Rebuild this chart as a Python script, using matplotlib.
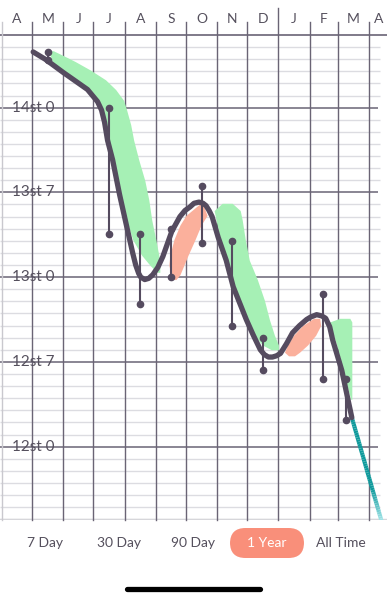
import numpy as np
import matplotlib.pyplot as plt
from matplotlib.collections import LineCollection
from matplotlib.patches import FancyBboxPatch
from matplotlib.colors import to_rgb

plt.rcParams['font.family'] = ['Lato', 'DejaVu Sans']

# --- axis labels ---
month_labels = ['A', 'M', 'J', 'J', 'A', 'S', 'O', 'N', 'D', 'J', 'F', 'M', 'A']
month_start = [0, 30, 61, 91, 122, 153, 183, 214, 244, 275, 306, 334, 365]
weight_ticks = [168, 175, 182, 189, 196]
weight_labels = ['12st 0', '12st 7', '13st 0', '13st 7', '14st 0']

# --- trend line (days since 1 Apr, lb) ---
trend_day = [31, 43, 61, 85, 90, 95, 99, 102, 105, 110, 117, 124, 130, 133, 136,
             138, 142, 146, 150, 155, 160, 169, 177, 182, 187, 191, 196, 200, 203,
             206, 209, 215, 223, 230, 243, 250, 257, 261, 265, 269, 273, 277, 283,
             289, 296, 303, 307, 313, 318, 322, 326, 329, 338, 348]
trend_lb = [200.6, 200.0, 198.9, 197.5, 197.0, 196.5, 195.8, 194.8, 193.3, 191.7,
            188.8, 186.2, 184.0, 183.0, 182.3, 182.0, 181.8, 181.9, 182.2, 182.8,
            183.7, 185.8, 187.0, 187.5, 187.8, 188.1, 188.2, 188.1, 187.9, 187.5,
            187.0, 185.3, 183.4, 181.2, 178.5, 177.2, 176.0, 175.6, 175.4, 175.4,
            175.5, 175.7, 176.5, 177.4, 178.0, 178.5, 178.7, 178.9, 178.8, 178.6,
            177.9, 176.8, 174.3, 170.4]

# projection
proj_day = [348, 385]
proj_lb = [170.4, 159.7]

# monthly weigh-in ranges
bar_day = [46, 106, 137, 168, 199, 229, 260, 319, 342]
bar_hi = [200.6, 196.0, 185.6, 186.0, 189.5, 185.0, 177.0, 180.6, 173.6]
bar_lo = [199.9, 185.6, 179.8, 182.0, 184.8, 178.0, 174.3, 173.6, 170.2]

# shaded bands: weight level, left day, right day
green1_lb = [200.7, 200.3, 199.8, 199.1, 198.3, 197.5, 196.6, 195.8, 194.6, 193.3,
             191.7, 190.0, 188.4, 186.7, 185.1, 183.8, 183.0, 182.4]
green1_left = [49, 48, 50, 58, 74, 86, 95, 100, 103, 106, 111, 115, 119, 124, 130,
               139, 147, 154]
green1_right = [51, 61, 73, 88, 103, 113, 121, 124, 128, 131, 136, 142, 146, 149,
                153, 156, 157, 157]

pink1_lb = [188.0, 187.1, 186.3, 185.1, 183.8, 183.0, 182.2, 181.8]
pink1_left = [196, 183, 177, 171, 167, 166, 168, 171]
pink1_right = [200, 204, 198, 192, 185, 181, 177, 173]

green2_lb = [188.1, 187.5, 186.7, 185.1, 183.4, 181.8, 180.1, 178.5, 177.2, 176.4, 176.0]
green2_left = [219, 211, 213, 217, 223, 229, 235, 243, 251, 259, 268]
green2_right = [229, 237, 239, 242, 246, 254, 261, 266, 271, 275, 275]

pink2_lb = [178.6, 178.0, 177.2, 176.4, 175.8, 175.5]
pink2_left = [310, 299, 290, 284, 281, 285]
pink2_right = [316, 317, 312, 304, 296, 291]

green3_lb = [178.6, 178.3, 177.6, 176.4, 174.7, 173.1, 171.9]
green3_left = [336, 326, 328, 333, 338, 343, 347]
green3_right = [346, 348, 348, 348, 348, 348, 348]

ranges = ['7 Day', '30 Day', '90 Day', '1 Year', 'All Time']
selected = '1 Year'

DARK = '#554b5f'
GRID = '#6a6475'
MINOR = '#dcdce1'
GREEN = '#a6f0b5'
PINK = '#fbb09c'
SALMON = '#f98f7a'
TEXT = '#55505d'

fig = plt.figure(figsize=(3.87, 6.0), dpi=100)
ax = fig.add_axes([0, 80 / 600, 1, 485 / 600])
ax.set_xlim(-2.0, 383.0)
ax.set_ylim(161.94, 202)
ax.axis('off')

# grid
for lb in range(162, 202):
    if lb not in weight_ticks:
        ax.hlines(lb, -2, 376, color=MINOR, lw=1.0, zorder=1)
ax.hlines(weight_ticks, -2, 374, color=GRID, lw=1.1, zorder=2)
ax.axhline(202, color=GRID, lw=1.2, zorder=2, clip_on=False)
ax.axhline(162, color='#d6d6da', lw=1.0, zorder=2)

xt = ax.get_xaxis_transform()
for i, d in enumerate(month_start):
    top = 1.0557 if i == 9 else 1.0268   # year boundary tick is taller
    col = '#c9c8ce' if d == 0 else GRID
    ax.plot([d, d], [0, top], transform=xt, color=col, lw=1.0, clip_on=False, zorder=2)
centers = [(month_start[i] + month_start[i + 1]) / 2 for i in range(len(month_start) - 1)] + [375]
for c, m in zip(centers, month_labels):
    ax.text(c, 1.033, m, transform=xt, ha='center', va='center', fontsize=10,
            color=TEXT, clip_on=False)

for t, lab in zip(weight_ticks, weight_labels):
    ax.text(10, t, lab, ha='left', va='center', fontsize=11, color=TEXT, zorder=3)

# bands
for lbs, lo, hi, col in [(green1_lb, green1_left, green1_right, GREEN),
                         (pink1_lb, pink1_left, pink1_right, PINK),
                         (green2_lb, green2_left, green2_right, GREEN),
                         (pink2_lb, pink2_left, pink2_right, PINK),
                         (green3_lb, green3_left, green3_right, GREEN)]:
    ax.fill_betweenx(lbs, lo, hi, color=col, lw=0, zorder=3)

# weigh-in ranges
ax.vlines(bar_day, bar_lo, bar_hi, color=DARK, lw=1.5, zorder=4)
ax.plot(bar_day + bar_day, bar_hi + bar_lo, 'o', ms=4.5, color=DARK, zorder=4)

# trend line
ax.plot(trend_day, trend_lb, color=DARK, lw=3.8, solid_capstyle='round',
        solid_joinstyle='round', zorder=5)

# projection with fade near the bottom
n = 60
px = np.linspace(proj_day[0], proj_day[1], n)
py = np.linspace(proj_lb[0], proj_lb[1], n)
segs = [[(px[i], py[i]), (px[i + 1], py[i + 1])] for i in range(n - 1)]
c0, c1 = np.array(to_rgb('#0f9a9c')), np.array(to_rgb('#9fe3e6'))
cols = []
for i in range(n - 1):
    y = (py[i] + py[i + 1]) / 2
    f = np.clip((164.5 - y) / 2.5, 0, 1)
    cols.append(c0 * (1 - f) + c1 * f)
ax.add_collection(LineCollection(segs, colors=cols, linewidths=3.0, zorder=4.5,
                                 capstyle='butt'))

# range selector
btn_x = [45, 119, 193, 267, 341]
for x, lab in zip(btn_x, ranges):
    if lab == selected:
        pill = FancyBboxPatch(((x - 37) / 387, 1 - 558 / 600), 74 / 387, 30 / 600,
                              boxstyle='round,pad=0,rounding_size=0.04',
                              transform=fig.transFigure, facecolor=SALMON,
                              edgecolor='none', mutation_aspect=387 / 600)
        fig.patches.append(pill)
        fig.text(x / 387, 1 - 543 / 600, lab, ha='center', va='center', fontsize=10,
                 color='white')
    else:
        fig.text(x / 387, 1 - 543 / 600, lab, ha='center', va='center', fontsize=10,
                 color=TEXT)

# home indicator
fig.add_artist(plt.Line2D([127 / 387, 260 / 387], [1 - 589 / 600] * 2, color='black',
                          lw=3.8, solid_capstyle='round', transform=fig.transFigure))

fig.savefig('out.png', dpi=100, facecolor='white')
